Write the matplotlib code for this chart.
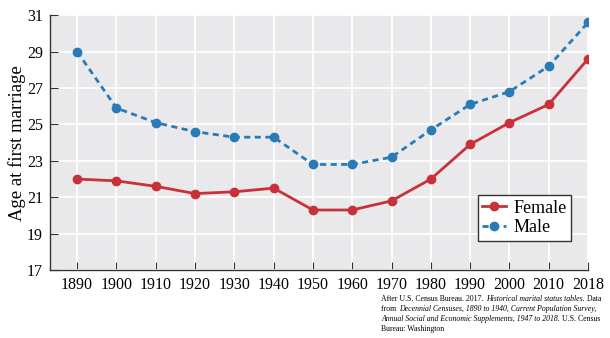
import matplotlib
matplotlib.use("Agg")
import matplotlib.pyplot as plt

plt.rcParams['font.family'] = ['Liberation Serif', 'DejaVu Serif']

years = ["1890", "1900", "1910", "1920", "1930", "1940", "1950",
         "1960", "1970", "1980", "1990", "2000", "2010", "2018"]
female = [22.0, 21.9, 21.6, 21.2, 21.3, 21.5, 20.3, 20.3, 20.8, 22.0, 23.9, 25.1, 26.1, 28.6]
male = [29.0, 25.9, 25.1, 24.6, 24.3, 24.3, 22.8, 22.8, 23.2, 24.7, 26.1, 26.8, 28.2, 30.6]
yticks = [17, 19, 21, 23, 25, 27, 29, 31]

# caption lines as (text, italic) pieces
caption = [
    [("After U.S. Census Bureau. 2017. ", False), ("Historical marital status tables.", True), (" Data", False)],
    [("from ", False), ("Decennial Censuses, 1890 to 1940, Current Population Survey,", True)],
    [("Annual Social and Economic Supplements, 1947 to 2018.", True), (" U.S. Census", False)],
    [("Bureau: Washington", False)],
]

fig = plt.figure(figsize=(6.1, 3.38), dpi=100)
ax = fig.add_axes([0.082, 0.201, 0.882, 0.754])
ax.set_facecolor('#e9e9eb')

x = range(len(years))
ax.plot(x, female, color='#c8313a', lw=2, marker='o', ms=6, label='Female', zorder=3)
ax.plot(x, male, color='#2a7ab8', lw=2, ls=(0, (2.2, 1.6)), marker='o', ms=6,
        label='Male', zorder=3)

ax.set_xlim(-0.69, len(years) - 1)
ax.set_ylim(17, 31)
ax.set_xticks(list(x))
ax.set_xticklabels(years)
ax.set_yticks(yticks)
ax.grid(True, color='white', lw=1.2)
ax.set_axisbelow(True)
for s in ['top', 'right']:
    ax.spines[s].set_visible(False)
for s in ['left', 'bottom']:
    ax.spines[s].set_color('#333333')
    ax.spines[s].set_linewidth(1)
ax.tick_params(direction='in', length=6, color='#333333', labelsize=11.5, pad=5)
ax.set_ylabel('Age at first marriage', fontsize=13.5, labelpad=1)

leg = ax.legend(loc='lower right', bbox_to_anchor=(0.968, 0.114), fontsize=13,
                frameon=True, fancybox=False, handlelength=1.3, handletextpad=0.4,
                borderpad=0.25, labelspacing=0.15, borderaxespad=0)
leg.get_frame().set_edgecolor('#333333')
leg.get_frame().set_linewidth(1)
leg.get_frame().set_alpha(1)

# caption, drawn piece by piece so italics can sit inside a line
renderer = fig.canvas.get_renderer()
W, H = fig.bbox.width, fig.bbox.height
x0, y0, dy = 381, 295, 10
for i, line in enumerate(caption):
    xp = x0
    for txt, ital in line:
        t = fig.text(xp / W, 1 - (y0 + i * dy) / H, txt, fontsize=5.6,
                     style='italic' if ital else 'normal', va='top', ha='left')
        xp = t.get_window_extent(renderer).x1 + 0.6

fig.savefig('out.png', dpi=100)
